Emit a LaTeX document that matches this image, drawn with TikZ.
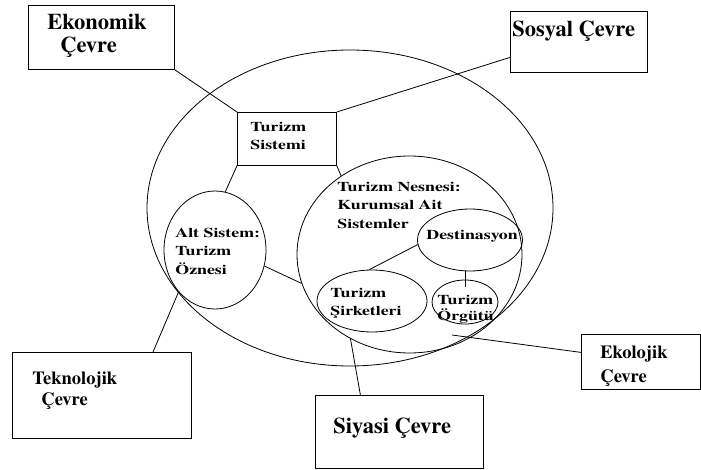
\documentclass[tikz,border=0pt]{standalone}
\usepackage{fontspec}
\newfontfamily\bigf{TeX Gyre Termes}
\newcommand{\wide}[1]{\scalebox{1.32}[1]{#1}}
\usetikzlibrary{shapes.geometric}
\begin{document}
\begin{tikzpicture}[x=1pt,y=-1pt, line width=0.8pt,
  box/.style={draw, rectangle, inner sep=0, anchor=north west},
  ell/.style={draw, ellipse, inner sep=0},
  bigtxt/.style={font=\bigf\bfseries\fontsize{22.5}{26}\selectfont, anchor=base west, inner sep=0},
  midtxt/.style={font=\bigf\bfseries\fontsize{18.5}{22}\selectfont, anchor=base west, inner sep=0},
  smltxt/.style={font=\bigf\bfseries\fontsize{13.5}{16}\selectfont, anchor=base west, inner sep=0}]
\useasboundingbox (0,0) rectangle (701,470);
% boxes
\node[box, minimum width=146pt, minimum height=64pt] (eko) at (28,5) {};
\node[box, minimum width=137pt, minimum height=61pt] (sos) at (510,11) {};
\node[box, minimum width=99pt, minimum height=53pt] (sis) at (237,112) {};
\node[box, minimum width=179pt, minimum height=86pt] (tek) at (12,352) {};
\node[box, minimum width=168pt, minimum height=73pt] (siy) at (315,395) {};
\node[box, minimum width=119pt, minimum height=55pt] (ekl) at (581,334) {};
% ellipses
\node[ell, minimum width=406pt, minimum height=316pt] (big) at (350,208) {};
\node[ell, minimum width=225pt, minimum height=197pt] (nes) at (409.5,254.5) {};
\node[ell, minimum width=102pt, minimum height=118pt] (alt) at (215,250) {};
\node[ell, minimum width=105pt, minimum height=62pt] (des) at (470,240) {};
\node[ell, minimum width=110pt, minimum height=62pt] (sir) at (372,301) {};
\node[ell, minimum width=66pt, minimum height=44pt] (org) at (465,302) {};
% free ends
\coordinate (tekc) at (153,352);
\coordinate (eklc) at (452,335);
% connectors
\draw (eko.south east) -- (sis.north west);
\draw ([yshift=-15.5pt]sos.west) -- (sis.north east);
\draw (sis.south west) -- (alt.80);
\draw (sis.south east) -- (nes.131);
\draw (alt.-18) -- (nes.195);
\draw (tekc) -- (alt.229);
\draw ([xshift=-39pt]siy.north) -- (nes.235);
\draw ([yshift=9.5pt]ekl.west) -- (eklc);
\draw (des.185) -- (sir.95);
\draw (org.north |- des.south) -- ([yshift=-7pt]org.north);
% texts
\node[bigtxt] (t1) at (47,30) {Ekonomik};
\node[bigtxt] (t2) at (60,53) {Çevre};
\node[bigtxt] (t3) at (512,37) {Sosyal Çevre};
\node[bigtxt] (t4) at (333,433) {Siyasi Çevre};
\node[midtxt] (t5) at (32,384) {Teknolojik};
\node[midtxt] (t6) at (41,405) {Çevre};
\node[midtxt] (t7) at (600,358) {Ekolojik};
\node[midtxt] (t8) at (600,382) {Çevre};
\node[smltxt] (t9) at (250,132) {\wide{Turizm}};
\node[smltxt] (t10) at (250,150) {\wide{Sistemi}};
\node[smltxt] (t11) at (175,238) {\wide{Alt Sistem:}};
\node[smltxt] (t12) at (175,256) {\wide{Turizm}};
\node[smltxt] (t13) at (175,274) {\wide{Öznesi}};
\node[smltxt] (t14) at (337,192) {\wide{Turizm Nesnesi:}};
\node[smltxt] (t15) at (337,210) {\wide{Kurumsal Ait}};
\node[smltxt] (t16) at (337,229) {\wide{Sistemler}};
\node[smltxt] (t17) at (426,240) {\wide{Destinasyon}};
\node[smltxt] (t18) at (330,297) {\wide{Turizm}};
\node[smltxt] (t19) at (330,315) {\wide{Şirketleri}};
\node[smltxt] (t20) at (437,304) {\wide{Turizm}};
\node[smltxt] (t21) at (437,320) {\wide{Örgütü}};
\end{tikzpicture}
\end{document}
